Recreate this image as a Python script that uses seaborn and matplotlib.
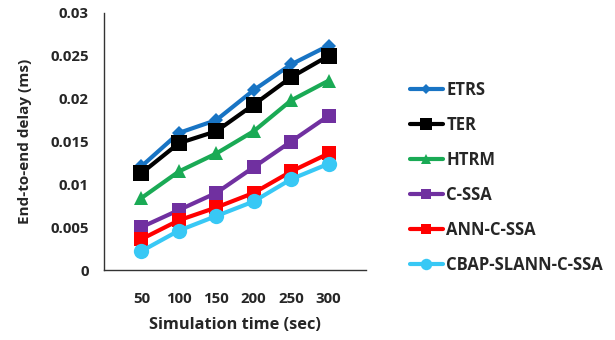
import pandas as pd
import numpy as np
import matplotlib.pyplot as plt
import seaborn as sns
from matplotlib.lines import Line2D

# data
sim_time = [50, 100, 150, 200, 250, 300]
etrs = [0.0121, 0.0160, 0.0175, 0.0210, 0.0240, 0.0262]
ter = [0.0113, 0.0148, 0.0162, 0.0193, 0.0225, 0.0250]
htrm = [0.0084, 0.0115, 0.0136, 0.0162, 0.0198, 0.0221]
cssa = [0.0050, 0.0070, 0.0090, 0.0120, 0.0150, 0.0180]
ann_cssa = [0.0036, 0.0058, 0.0073, 0.0090, 0.0115, 0.0136]
cbap = [0.0022, 0.0046, 0.0063, 0.0080, 0.0106, 0.0124]

names = ["ETRS", "TER", "HTRM", "C-SSA", "ANN-C-SSA", "CBAP-SLANN-C-SSA"]
series = [etrs, ter, htrm, cssa, ann_cssa, cbap]
colors = ["#1874C4", "#000000", "#1AAA55", "#7030A0", "#FF0000", "#38C8F5"]
markers = ["D", "s", "^", "s", "s", "o"]
msizes = [7, 11, 10, 10, 10, 11]

df = pd.DataFrame({
    "time": sim_time * len(names),
    "delay": [v for s in series for v in s],
    "method": [n for n in names for _ in sim_time],
})

sns.set_style("white")
plt.rcParams['font.family'] = ['Open Sans', 'DejaVu Sans']
plt.rcParams['font.weight'] = 'bold'

fig = plt.figure(figsize=(6.15, 3.4), dpi=100)
ax = fig.add_axes([104 / 615, 1 - 270 / 340, 262 / 615, 257 / 340])

for name, col, mk, ms in zip(names, colors, markers, msizes):
    sub = df[df["method"] == name]
    sns.lineplot(data=sub, x="time", y="delay", ax=ax, color=col, marker=mk,
                 markersize=ms, markeredgewidth=0, linewidth=3, legend=False)

ax.set_xlim(0, 350)
ax.set_ylim(0, 0.03)
ax.set_xticks([0, 50, 100, 150, 200, 250, 300, 350])
ax.set_xticklabels(["", "50", "100", "150", "200", "250", "300", ""])
ax.set_yticks(np.arange(0, 0.0301, 0.005))
ax.set_yticklabels(["0", "0.005", "0.01", "0.015", "0.02", "0.025", "0.03"])
ax.tick_params(axis="x", direction="out", length=5, width=1, pad=11, labelsize=10.8, color="#333333")
ax.tick_params(axis="y", direction="out", length=5, width=1, pad=6, labelsize=10.8, color="#333333")
for lbl in ax.get_xticklabels() + ax.get_yticklabels():
    lbl.set_fontweight("bold")
sns.despine(ax=ax)
for sp in ["left", "bottom"]:
    ax.spines[sp].set_color("#333333")
    ax.spines[sp].set_linewidth(1)

ax.set_xlabel("Simulation time (sec)", fontsize=11.8, fontweight="bold", labelpad=8)
ax.set_ylabel("End-to-end delay (ms)", fontsize=11, fontweight="bold", labelpad=13)

handles = [Line2D([], [], color=c, marker=m, markersize=s * 0.75, markeredgewidth=0, linewidth=3)
           for c, m, s in zip(colors, markers, msizes)]
leg = fig.legend(handles, names, loc="upper left", bbox_to_anchor=(403 / 615, 1 - 74 / 340),
                 frameon=False, fontsize=12, handlelength=2.0, handletextpad=0.2,
                 labelspacing=1.02, borderaxespad=0)
for t in leg.get_texts():
    t.set_fontweight("bold")

fig.savefig("out.png", dpi=100)
